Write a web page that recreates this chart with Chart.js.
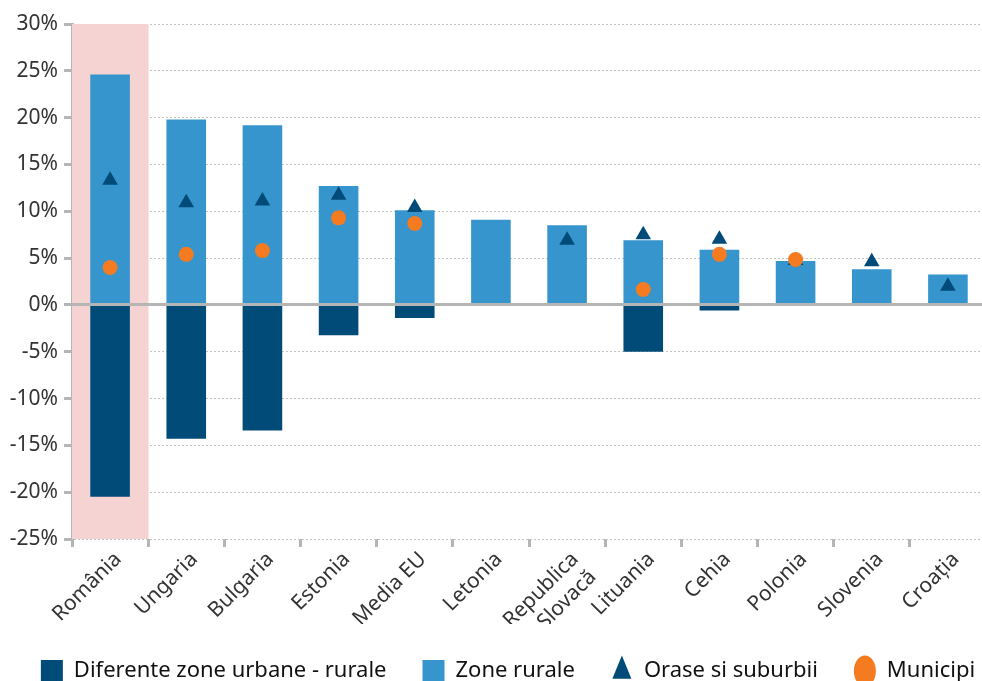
<!DOCTYPE html>
<html><head><meta charset="utf-8">
<script src="https://cdn.jsdelivr.net/npm/chart.js@4.4.1/dist/chart.umd.min.js"></script>
<style>html,body{margin:0;padding:0;overflow:hidden;background:#fff}#wrap{width:1016px;height:692px}</style>
</head><body><div id="wrap"><canvas id="c" width="1016" height="692"></canvas></div>
<script>
const categories = ["România","Ungaria","Bulgaria","Estonia","Media EU","Letonia",["Republica","Slovacă"],"Lituania","Cehia","Polonia","Slovenia","Croația"];
const differences = [-20.5,-14.3,-13.4,-3.25,-1.4,null,null,-5.0,-0.6,null,null,null];
const rural = [24.6,19.8,19.2,12.7,10.1,9.1,8.5,6.9,5.9,4.7,3.8,3.25];
const towns = [13.3,10.9,11.1,11.7,10.4,null,6.9,7.5,7.0,4.75,4.6,2.0];
const cities = [4.0,5.4,5.8,9.3,8.7,null,null,1.65,5.4,4.85,null,null];
const highlight = [[-25,30],null,null,null,null,null,null,null,null,null,null,null];
const yTicks = {min:-25,max:30,step:5};

const FONT = "'Noto Sans', sans-serif";
const DARK = '#004b78', LIGHT = '#3595cc', ORANGE = '#f47b20', PINK = '#f6d3d3', AXIS = '#b5b5b5';

new Chart(document.getElementById('c'), {
  type: 'bar',
  data: {
    labels: categories,
    datasets: [
      {label:'highlight', data: highlight, backgroundColor: PINK, barPercentage:1, categoryPercentage:1, order:10},
      {label:'Diferente zone urbane - rurale', data: differences, backgroundColor: DARK, pointStyle:'rect', barPercentage:0.52, categoryPercentage:1, order:5},
      {label:'Zone rurale', data: rural, backgroundColor: LIGHT, pointStyle:'rect', barPercentage:0.52, categoryPercentage:1, order:4},
      {type:'line', label:'Orase si suburbii', data: towns, showLine:false, pointStyle:'triangle', pointRadius:9, pointHoverRadius:9, backgroundColor: DARK, borderColor: DARK, borderWidth:0, order:2},
      {type:'line', label:'Municipi', data: cities, showLine:false, pointStyle:'circle', pointRadius:7.5, pointHoverRadius:7.5, backgroundColor: ORANGE, borderColor: ORANGE, borderWidth:0, order:1}
    ]
  },
  options: {
    responsive:false, animation:false,
    layout:{padding:{top:24,left:0,right:0,bottom:0}},
    plugins:{
      tooltip:{enabled:false},
      legend:{
        position:'bottom',
        labels:{
          filter:(item)=>item.text!=='highlight',
          sort:(a,b)=>a.datasetIndex-b.datasetIndex,
          usePointStyle:true, pointStyleWidth:22, boxHeight:22,
          color:'#111', font:{family:FONT,size:22}, padding:36
        }
      }
    },
    scales:{
      x:{
        stacked:true,
        offset:true,
        grid:{drawOnChartArea:false, drawTicks:true, tickLength:8, tickColor:AXIS, tickWidth:3, offset:true},
        border:{display:false},
        ticks:{color:'#333', font:{family:FONT,size:21}, maxRotation:45, minRotation:45, autoSkip:false, padding:0, labelOffset:8},
        afterFit:(s)=>{s.height = 85;}
      },
      y:{
        stacked:false,
        min:yTicks.min, max:yTicks.max,
        ticks:{stepSize:yTicks.step, color:'#333', font:{family:FONT,size:21}, padding:6, callback:(v)=>v+'%'},
        grid:{
          color:(c)=>c.tick && c.tick.value===0 ? 'rgba(0,0,0,0)' : '#c4c4c4',
          lineWidth:1,
          tickColor:AXIS, tickWidth:3, tickLength:8
        },
        border:{display:true, color:AXIS, width:3, dash:[2,2]},
        afterFit:(s)=>{s.width = 72;}
      },
      yZero:{
        position:'right',
        min:yTicks.min, max:yTicks.max,
        ticks:{stepSize:yTicks.step, display:false},
        grid:{
          z:1, drawTicks:false,
          color:(c)=>c.tick && c.tick.value===0 ? AXIS : 'rgba(0,0,0,0)',
          lineWidth:(c)=>c.tick && c.tick.value===0 ? 3 : 0
        },
        border:{display:false},
        afterFit:(s)=>{s.width = 30;}
      }
    }
  }
});
</script></body></html>
